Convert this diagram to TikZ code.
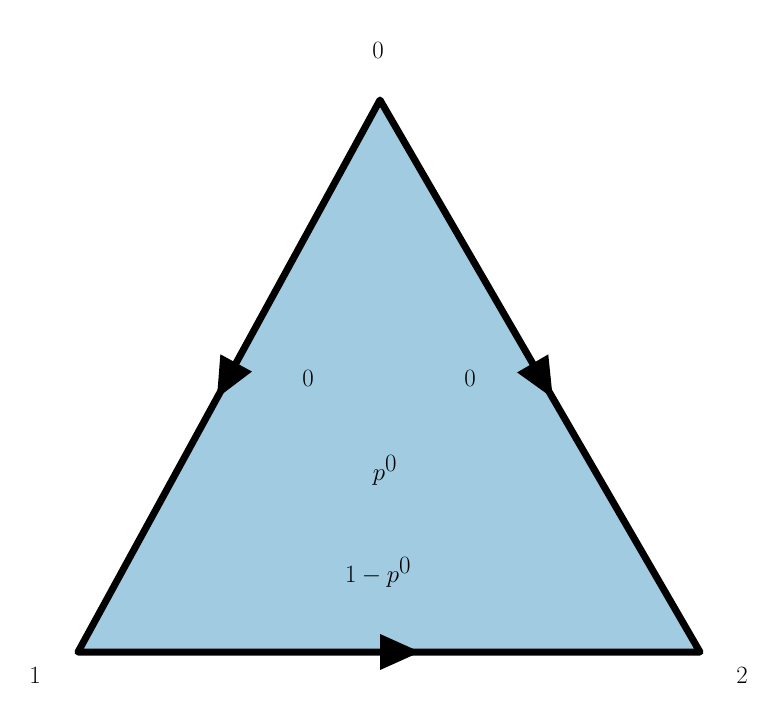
\documentclass[tikz,border=0pt]{standalone}
\usetikzlibrary{arrows.meta,decorations.markings}
\definecolor{fillblue}{RGB}{160,203,224}
\begin{document}
\begin{tikzpicture}[x=1pt,y=-1pt,
  edge/.style={line width=7pt,line cap=round,line join=round},
  midarrow/.style={decoration={markings,mark=at position #1 with {\arrow{Triangle[length=40pt,width=36pt]}}},postaction={decorate}},
  lbl/.style={inner sep=0pt,font=\fontsize{85}{90}\selectfont},
  ilbl/.style={inner sep=0pt,font=\fontsize{70}{75}\selectfont},
  slbl/.style={inner sep=0pt,font=\fontsize{55}{60}\selectfont}]
\useasboundingbox (0,0) rectangle (782,728);
\coordinate (v0) at (380,100);
\coordinate (v1) at (78,652);
\coordinate (v2) at (700,652);
\fill[fillblue] (v0) -- (v1) -- (v2) -- cycle;
\draw[edge] (v0) -- (v1) -- (v2) -- cycle;
\draw[line width=0pt,draw=none,midarrow=0.54] (v0) -- (v1);
\draw[line width=0pt,draw=none,midarrow=0.54] (v0) -- (v2);
\draw[line width=0pt,draw=none,midarrow=0.55] (v1) -- (v2);
\node[lbl] (t0) at (378,50) {$0$};
\node[lbl] (t1) at (35,675) {$1$};
\node[lbl] (t2) at (742,675) {$2$};
\node[ilbl] (i0) at (308,378) {$0$};
\node[ilbl] (i1) at (470,378) {$0$};
\node[ilbl] (p) at (385,470) {$p^0$};
\node[slbl] (q) at (378,572) {$1-p^0$};
\end{tikzpicture}
\end{document}
